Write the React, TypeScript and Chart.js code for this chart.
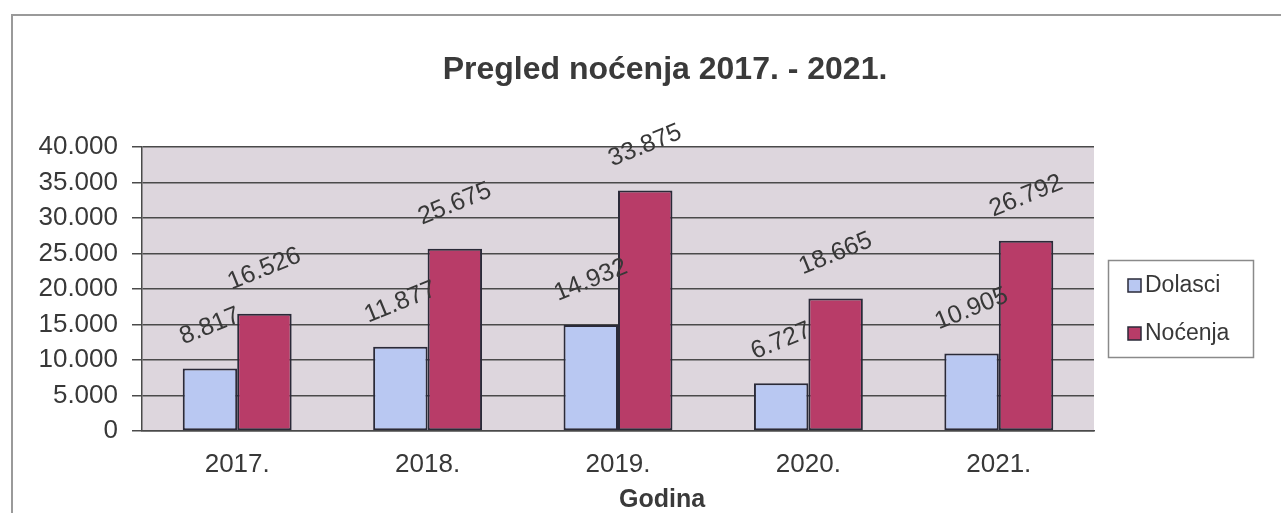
import React, { useEffect, useRef } from 'react';
import { Chart, registerables } from 'chart.js';

Chart.register(...registerables);

const categories = ['2017.', '2018.', '2019.', '2020.', '2021.'];
const dolasci = [8817, 11877, 14932, 6727, 10905];
const nocenja = [16526, 25675, 33875, 18665, 26792];
const seriesNames = ['Dolasci', 'Noćenja'];
const titleText = 'Pregled noćenja 2017. - 2021.';
const xTitleText = 'Godina';
const yMax = 40000;
const yStep = 5000;

const FONT = "'Liberation Sans', Arial, Helvetica, sans-serif";
const TEXT = '#383838';
const BLUE = '#b9c8f2';
const RED = '#b83c68';
const EDGE = '#2a2a38';

const fmt = (v: number) => String(Math.round(v)).replace(/\B(?=(\d{3})+(?!\d))/g, '.');

const decorPlugin = {
  id: 'decor',
  beforeDraw(chart: any) {
    const { ctx, chartArea } = chart;
    ctx.save();
    ctx.fillStyle = '#ffffff';
    ctx.fillRect(0, 0, chart.width, chart.height);
    ctx.strokeStyle = '#9a9a9a';
    ctx.lineWidth = 2;
    ctx.beginPath();
    ctx.moveTo(12, chart.height);
    ctx.lineTo(12, 15);
    ctx.lineTo(chart.width, 15);
    ctx.stroke();
    ctx.fillStyle = '#ddd6dd';
    ctx.fillRect(chartArea.left, chartArea.top, chartArea.right - chartArea.left, chartArea.bottom - chartArea.top);
    ctx.restore();
  },
  afterDatasetsDraw(chart: any) {
    const { ctx } = chart;
    ctx.save();
    ctx.font = `25px ${FONT}`;
    ctx.fillStyle = TEXT;
    ctx.textAlign = 'center';
    ctx.textBaseline = 'middle';
    const th = (22 * Math.PI) / 180;
    chart.data.datasets.forEach((ds: any, di: number) => {
      const meta = chart.getDatasetMeta(di);
      meta.data.forEach((el: any, i: number) => {
        const txt = fmt(ds.data[i]);
        const w = ctx.measureText(txt).width;
        const boxH = w * Math.sin(th) + 18 * Math.cos(th);
        const cy = el.y - 22 - boxH / 2;
        ctx.save();
        ctx.translate(el.x, cy);
        ctx.rotate(-th);
        ctx.fillText(txt, 0, 0);
        ctx.restore();
      });
    });
    ctx.restore();
  },
  afterDraw(chart: any) {
    const { ctx } = chart;
    ctx.save();
    ctx.fillStyle = '#3a3a3a';
    ctx.textAlign = 'center';
    ctx.textBaseline = 'alphabetic';
    ctx.font = `bold 32px ${FONT}`;
    ctx.fillText(titleText, 665, 79);
    ctx.font = `bold 25px ${FONT}`;
    ctx.fillText(xTitleText, 662, 507);
    // legend
    ctx.strokeStyle = '#8a8a8a';
    ctx.lineWidth = 1.5;
    ctx.strokeRect(1108.5, 260.5, 145, 97);
    const items = [
      { name: seriesNames[0], color: BLUE, y: 286 },
      { name: seriesNames[1], color: RED, y: 334 },
    ];
    ctx.font = `23px ${FONT}`;
    ctx.textAlign = 'left';
    ctx.textBaseline = 'middle';
    items.forEach((it) => {
      ctx.fillStyle = it.color;
      ctx.fillRect(1128, it.y - 7, 13, 13);
      ctx.strokeStyle = EDGE;
      ctx.lineWidth = 1.5;
      ctx.strokeRect(1128, it.y - 7, 13, 13);
      ctx.fillStyle = TEXT;
      ctx.fillText(it.name, 1145, it.y);
    });
    ctx.restore();
  },
};

export default function App() {
  const ref = useRef<HTMLCanvasElement | null>(null);
  useEffect(() => {
    if (!ref.current) return;
    const chart = new Chart(ref.current, {
      type: 'bar',
      data: {
        labels: categories,
        datasets: [
          {
            label: seriesNames[0],
            data: dolasci,
            backgroundColor: BLUE,
            borderColor: EDGE,
            borderWidth: 2,
            borderSkipped: false,
            barPercentage: 1,
            categoryPercentage: 0.572,
          },
          {
            label: seriesNames[1],
            data: nocenja,
            backgroundColor: RED,
            borderColor: EDGE,
            borderWidth: 2,
            borderSkipped: false,
            barPercentage: 1,
            categoryPercentage: 0.572,
          },
        ],
      },
      options: {
        responsive: false,
        animation: false,
        layout: { padding: { left: 0, top: 147, right: 187, bottom: 0 } },
        plugins: {
          legend: { display: false },
          title: { display: false },
          tooltip: { enabled: false },
        },
        scales: {
          x: {
            afterFit: (s: any) => {
              s.height = 82;
            },
            grid: { display: false },
            border: { display: true, color: '#4a4a4a', width: 1.5 },
            ticks: { color: TEXT, font: { family: FONT, size: 26 }, padding: 10 },
          },
          y: {
            min: 0,
            max: yMax,
            afterFit: (s: any) => {
              s.width = 142;
            },
            grid: { color: '#4a4a4a', lineWidth: 1.5, tickLength: 10, tickColor: '#4a4a4a' },
            border: { display: true, color: '#4a4a4a', width: 1.5 },
            ticks: {
              stepSize: yStep,
              color: TEXT,
              font: { family: FONT, size: 26 },
              padding: 14,
              callback: (v: any) => fmt(Number(v)),
            },
          },
        },
      },
      plugins: [decorPlugin],
    });
    return () => chart.destroy();
  }, []);
  return (
    <div style={{ position: 'absolute', left: 0, top: 0, width: 1281, height: 513 }}>
      <canvas ref={ref} width={1281} height={513} />
    </div>
  );
}
